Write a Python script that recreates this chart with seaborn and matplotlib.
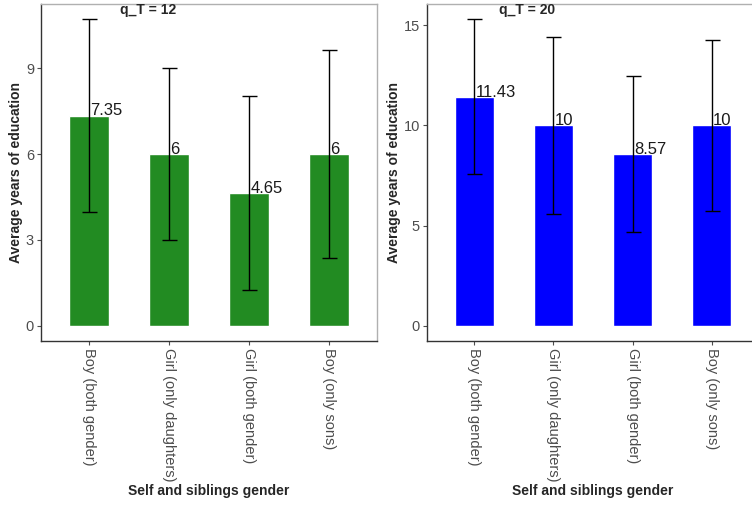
import numpy as np
import pandas as pd
import matplotlib
matplotlib.use('Agg')
import matplotlib.pyplot as plt
import seaborn as sns

# --- data ---
categories = ['Boy (both gender)', 'Girl (only daughters)',
              'Girl (both gender)', 'Boy (only sons)']
mean_q12 = [7.35, 6.0, 4.65, 6.0]
err_q12 = [3.37, 3.0, 3.40, 3.64]
mean_q20 = [11.43, 10.0, 8.57, 10.0]
err_q20 = [3.87, 4.42, 3.90, 4.25]
titles = ['q_T = 12', 'q_T = 20']
yticks_q12 = [0, 3, 6, 9]
yticks_q20 = [0, 5, 10, 15]
labels_q12 = ['7.35', '6', '4.65', '6']
labels_q20 = ['11.43', '10', '8.57', '10']

sns.set_style('white')
plt.rcParams['font.family'] = ['Liberation Sans', 'DejaVu Sans']

fig = plt.figure(figsize=(7.52, 5.07), dpi=100)
ax1 = fig.add_axes([0.0545, 0.3274, 0.4468, 0.6647])
ax2 = fig.add_axes([0.5678, 0.3274, 0.4415, 0.6647])

panels = [
    (ax1, mean_q12, err_q12, labels_q12, yticks_q12, '#228B22', titles[0], 0.32),
    (ax2, mean_q20, err_q20, labels_q20, yticks_q20, '#0000FF', titles[1], 0.30),
]

for ax, means, errs, labs, yt, color, title, tx in panels:
    df = pd.DataFrame({'group': categories, 'mean': means, 'err': errs})
    sns.barplot(data=df, x='group', y='mean', order=categories, color=color,
                saturation=1, width=0.5, errorbar=None, ax=ax, zorder=2)
    xs = np.arange(len(categories))
    ax.errorbar(xs, df['mean'], yerr=df['err'], fmt='none', ecolor='black',
                elinewidth=1.0, capsize=5.4, capthick=1.0, zorder=3)
    for x, m, lab in zip(xs, means, labs):
        ax.annotate(lab, (x, m), xytext=(1, -2), textcoords='offset points',
                    ha='left', va='bottom', fontsize=12, color='#1a1a1a', zorder=4)

    top = max(np.array(means) + np.array(errs))
    pad = 0.05 * top
    ax.set_ylim(-pad, top + pad)
    ax.set_xlim(-0.6, len(categories) - 0.4)
    ax.set_yticks(yt)
    ax.set_yticklabels([str(v) for v in yt], fontsize=10.5, color='#4d4d4d')
    ax.set_xticks(xs)
    ax.set_xticklabels(categories, rotation=270, fontsize=10.5, color='#4d4d4d')
    ax.tick_params(axis='both', which='both', length=3, width=0.8,
                   color='#4d4d4d', direction='out', left=True, bottom=True, pad=2)
    ax.set_xlabel('Self and siblings gender', fontsize=10, fontweight='bold', labelpad=2)
    ax.set_ylabel('Average years of education', fontsize=10, fontweight='bold', labelpad=2)
    ax.text(tx, 0.982, title, transform=ax.transAxes, ha='center', va='center',
            fontsize=10, fontweight='bold')

    for side in ['top', 'right']:
        ax.spines[side].set_color('#b0b0b0')
        ax.spines[side].set_linewidth(1.0)
    for side in ['left', 'bottom']:
        ax.spines[side].set_color('#333333')
        ax.spines[side].set_linewidth(1.0)

fig.savefig('out.png', dpi=100)
